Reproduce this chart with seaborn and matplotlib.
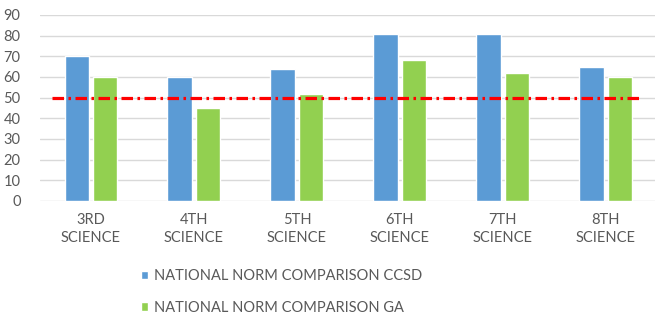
import numpy as np
import pandas as pd
import matplotlib.pyplot as plt
import seaborn as sns

# ---------- data ----------
grades = ["3RD\nSCIENCE", "4TH\nSCIENCE", "5TH\nSCIENCE",
          "6TH\nSCIENCE", "7TH\nSCIENCE", "8TH\nSCIENCE"]
ccsd = [70, 60, 64, 81, 81, 65]
ga = [60, 45, 52, 68, 62, 60]
series = ["NATIONAL NORM COMPARISON CCSD", "NATIONAL NORM COMPARISON GA"]
norm_line = 50
yticks = list(range(0, 91, 10))

df = pd.DataFrame({
    "grade": grades * 2,
    "score": ccsd + ga,
    "series": [series[0]] * len(grades) + [series[1]] * len(grades),
})

sns.set_style("white")
plt.rcParams["font.family"] = ["Lato", "DejaVu Sans"]

fig = plt.figure(figsize=(6.55, 3.14), dpi=100)
ax = fig.add_axes([40 / 655, 1 - 201 / 314, 615 / 655, 186 / 314])

sns.barplot(data=df, x="grade", y="score", hue="series",
            palette=["#5B9BD5", "#92D050"], width=0.55, gap=0.13,
            saturation=1, ax=ax, legend=True)

# reference norm line
ax.hlines(norm_line, -0.38, 5.32, colors="#FF0000", linewidth=2.3,
          linestyles=(0, (3.6, 1.4, 0.8, 1.4)), zorder=5)

ax.set_ylim(0, 90)
ax.set_xlim(-0.495, 5.476)
ax.set_yticks(yticks)
ax.yaxis.grid(True, color="#D9D9D9", linewidth=1)
ax.set_axisbelow(True)
for s in ax.spines.values():
    s.set_visible(False)
ax.tick_params(axis="both", length=0, labelsize=10.5, colors="#595959")
ax.tick_params(axis="x", pad=9)
ax.tick_params(axis="y", pad=14)
for lbl in ax.get_xticklabels():
    lbl.set_linespacing(1.35)
ax.set_xlabel("")
ax.set_ylabel("")

handles, labels = ax.get_legend_handles_labels()
ax.get_legend().remove()
fig.legend(handles, labels, loc="upper left", bbox_to_anchor=(128 / 655, 1 - 256 / 314),
           frameon=False, ncol=1, fontsize=10.5, handlelength=0.5, handleheight=0.5,
           handletextpad=0.35, labelspacing=1.2, labelcolor="#595959")

plt.savefig("out.png", dpi=100)
plt.close()
